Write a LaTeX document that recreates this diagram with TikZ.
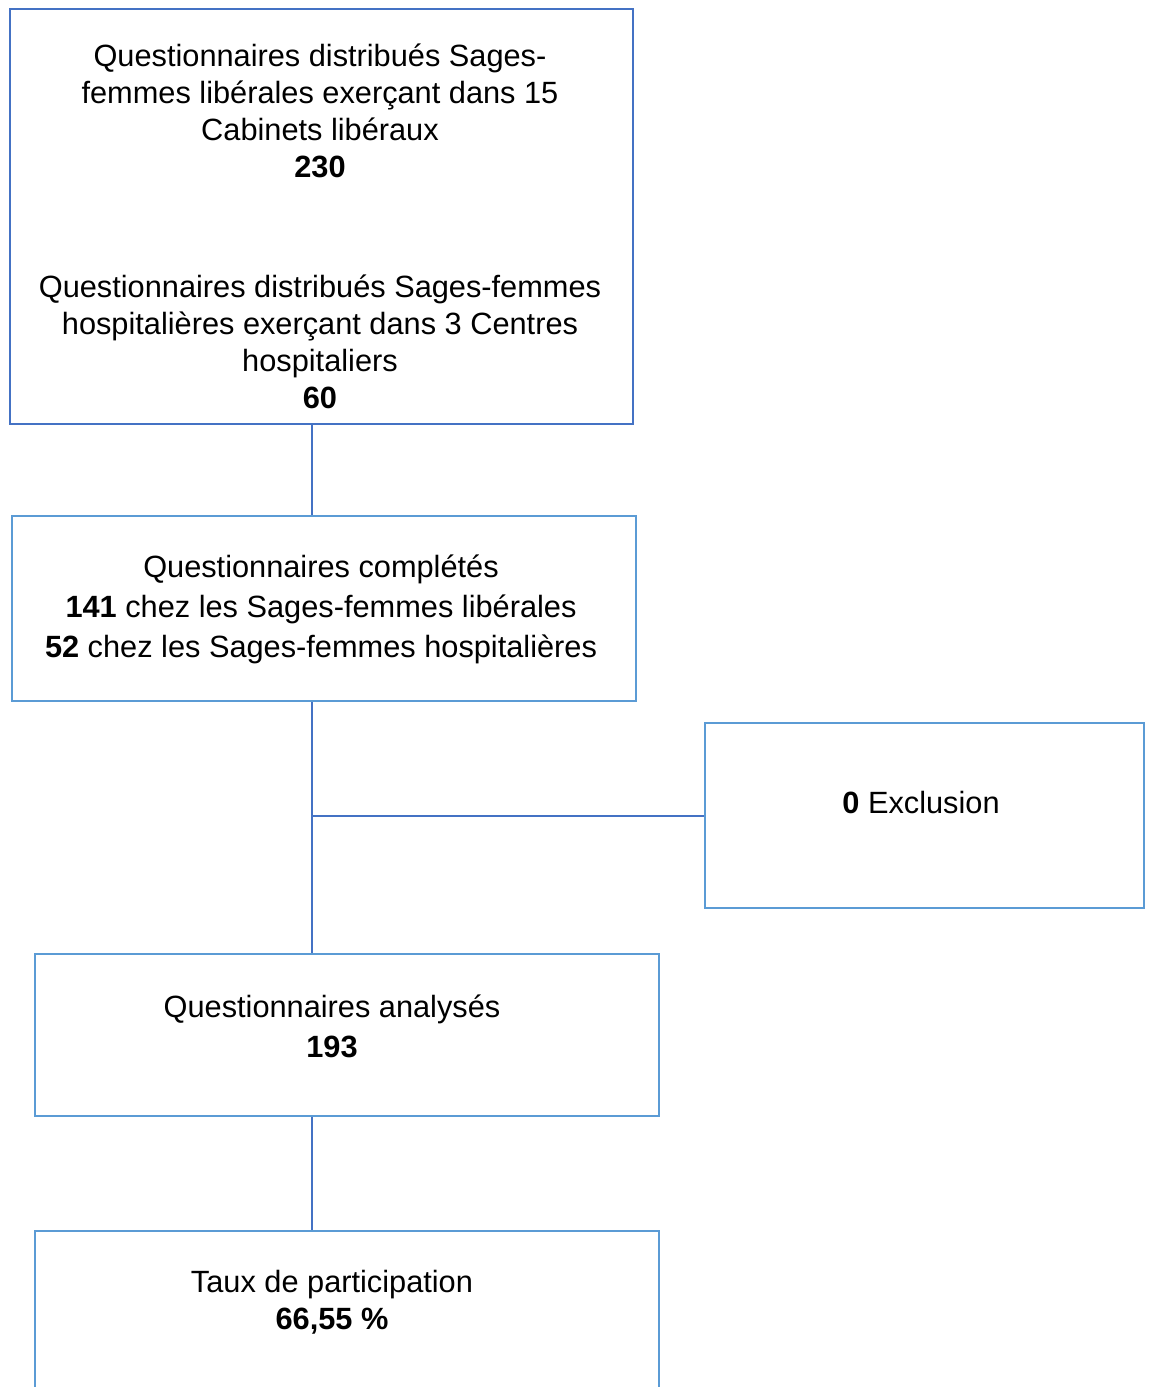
\documentclass[tikz,border=0pt]{standalone}
\usepackage{fontspec}
\setmainfont{Liberation Sans}
\usetikzlibrary{positioning}

\definecolor{darkblue}{HTML}{4472C4}
\definecolor{lightblue}{HTML}{5B9BD5}

\tikzset{
  box/.style={draw=lightblue,line width=1.5pt,rectangle,inner sep=0pt},
  label text/.style={align=center,anchor=base,inner sep=0pt,
    font=\fontsize{17.5pt}{21pt}\selectfont},
  link/.style={draw=darkblue,line width=1.5pt}
}

\begin{document}
\begin{tikzpicture}[x=0.02cm,y=-0.02cm]
\useasboundingbox (0,0) rectangle (1152,1387);
% boxes
\node[box,draw=darkblue,minimum width=12.46cm,minimum height=8.3cm] (dist) at (321.5,216.5) {};
\node[box,minimum width=12.48cm,minimum height=3.7cm] (comp) at (324,608.5) {};
\node[box,minimum width=8.78cm,minimum height=3.7cm] (excl) at (924.5,815.5) {};
\node[box,minimum width=12.48cm,minimum height=3.24cm] (anal) at (347,1035) {};
\node[box,minimum width=12.48cm,minimum height=3.38cm] (taux) at (347,1315.5) {};
% texts (anchored on the last line)
\node[label text] (distlib) at (320,177) {Questionnaires distribués Sages-\\femmes libérales exerçant dans 15\\Cabinets libéraux\\\textbf{230}};
\node[label text] (disthosp) at (320,408) {Questionnaires distribués Sages-femmes\\hospitalières exerçant dans 3 Centres\\hospitaliers\\\textbf{60}};
\node[label text,font=\fontsize{17.5pt}{22.5pt}\selectfont] (comptext) at (321,657) {Questionnaires complétés\\\textbf{141} chez les Sages-femmes libérales\\\textbf{52} chez les Sages-femmes hospitalières};
\node[label text] (excltext) at (921,813) {\textbf{0} Exclusion};
\node[label text,font=\fontsize{17.5pt}{22.5pt}\selectfont] (analtext) at (332,1057) {Questionnaires analysés\\\textbf{193}};
\node[label text] (tauxtext) at (332,1329) {Taux de participation\\\textbf{66,55 \%}};
% connectors
\coordinate (trunk) at (312,0);
\coordinate (branch) at (312,816);
\draw[link] (dist.south -| trunk) -- (comp.north -| trunk);
\draw[link] (comp.south -| trunk) -- (anal.north -| trunk);
\draw[link] (branch) -- (excl.west |- branch);
\draw[link] (anal.south -| trunk) -- (taux.north -| trunk);
\end{tikzpicture}
\end{document}
